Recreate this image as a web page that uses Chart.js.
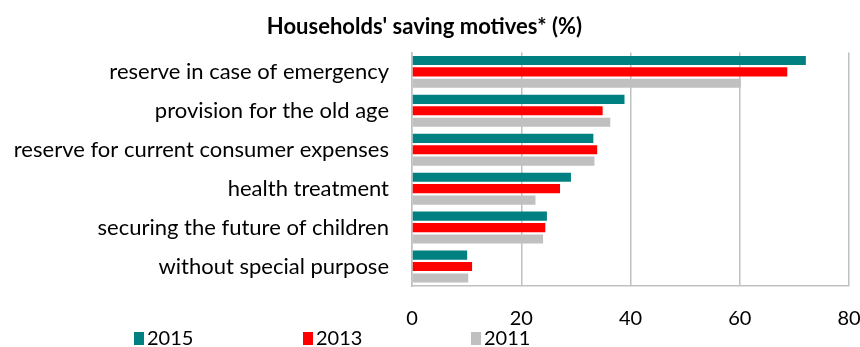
<!DOCTYPE html>
<html>
<head>
<meta charset="utf-8">
<script src="https://cdn.jsdelivr.net/npm/chart.js@4/dist/chart.umd.min.js"></script>
<style>
    html, body { margin: 0; padding: 0; background: #fff; }
    #wrap { position: relative; width: 860px; height: 347px; }
    #legend { position: absolute; left: 0; top: 327px; width: 860px; height: 20px; font-family: Lato, sans-serif; font-size: 20px; color: #000; }
    .leg-item { position: absolute; top: 0; display: flex; align-items: center; line-height: 20px; height: 20px; }
    .leg-box { width: 10px; height: 13px; margin-right: 3px; margin-top: 2px; }
</style>
</head>
<body>
<div id="wrap">
    <canvas id="chart" width="860" height="347"></canvas>
    <div id="legend"></div>
</div>
<script>
const categorias = [
    "reserve in case of emergency",
    "provision for the old age",
    "reserve for current consumer expenses",
    "health treatment",
    "securing the future of children",
    "without special purpose",
];
const series2015 = [72.1, 38.9, 33.2, 29.1, 24.7, 10.1];
const series2013 = [68.7, 34.9, 33.9, 27.1, 24.4, 11.0];
const series2011 = [60.2, 36.3, 33.4, 22.6, 24.0, 10.3];
const xTicks = [0, 20, 40, 60, 80];

const FONT = "Lato, sans-serif";
const legendPos = [134, 303, 471];

// legend drawn as html so the three items can sit far apart like in the original
const htmlLegend = {
    id: "htmlLegend",
    afterUpdate(chart) {
        const cont = document.getElementById("legend");
        cont.innerHTML = "";
        chart.data.datasets.forEach((ds, i) => {
            const item = document.createElement("div");
            item.className = "leg-item";
            item.style.left = legendPos[i] + "px";
            item.innerHTML = `<span class="leg-box" style="background:${ds.backgroundColor}"></span><span>${ds.label}</span>`;
            cont.appendChild(item);
        });
    },
};

new Chart(document.getElementById("chart").getContext("2d"), {
    type: "bar",
    data: {
        labels: categorias,
        datasets: [
            { label: "2015", data: series2015, backgroundColor: "#008080" },
            { label: "2013", data: series2013, backgroundColor: "#ff0000" },
            { label: "2011", data: series2011, backgroundColor: "#c0c0c0" },
        ],
    },
    options: {
        indexAxis: "y",
        responsive: false,
        animation: false,
        devicePixelRatio: 1,
        categoryPercentage: 0.88,
        barPercentage: 0.8,
        layout: { padding: { top: 0, right: 11, bottom: 0, left: 0 } },
        plugins: {
            legend: { display: false },
            tooltip: { enabled: false },
            title: {
                display: true,
                text: "Households' saving motives* (%)",
                color: "#000",
                font: { family: FONT, size: 22, weight: "bold" },
                padding: { top: 14, bottom: 12 },
            },
        },
        scales: {
            x: {
                min: 0,
                max: 80,
                afterBuildTicks: (scale) => { scale.ticks = xTicks.map((v) => ({ value: v })); },
                afterFit: (scale) => {
                    scale.height = 61;
                    scale.paddingLeft = 0;
                    scale.paddingRight = 0;
                },
                grid: { color: "#c0c0c0", lineWidth: 1.5, drawTicks: false },
                border: { color: "#c0c0c0", width: 1.5 },
                ticks: { color: "#000", font: { family: FONT, size: 20 }, padding: 21, maxRotation: 0 },
            },
            y: {
                afterFit: (scale) => { scale.width = 412; },
                grid: { display: false, drawTicks: false },
                border: { color: "#c0c0c0", width: 1.5 },
                ticks: { color: "#000", font: { family: FONT, size: 22 }, padding: 23 },
            },
        },
    },
    plugins: [htmlLegend],
});
</script>
</body>
</html>
